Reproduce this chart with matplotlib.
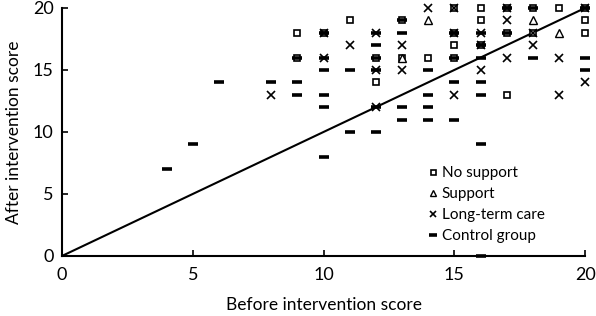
import matplotlib.pyplot as plt
import numpy as np

plt.rcParams['font.family'] = ['Lato', 'DejaVu Sans']

# before / after scores, one pair of lists per group
nosupport_before = [9, 9, 10, 11, 12, 12, 13, 13, 14, 15, 15, 15, 15, 16, 16, 16,
                    17, 17, 17, 18, 18, 19, 20, 20, 20]
nosupport_after = [18, 16, 18, 19, 16, 14, 19, 16, 16, 20, 18, 17, 16, 20, 19, 17,
                   20, 18, 13, 20, 18, 20, 20, 19, 18]

support_before = [13, 14, 18, 19]
support_after = [16, 19, 19, 18]

ltc_before = [8, 10, 10, 11, 12, 12, 12, 13, 13, 14, 15, 15, 15, 16, 16, 16,
              17, 17, 17, 18, 18, 19, 19, 20, 20]
ltc_after = [13, 18, 16, 17, 18, 15, 12, 17, 15, 20, 20, 18, 13, 18, 17, 15,
             20, 19, 16, 18, 17, 16, 13, 20, 14]

control_before = [4, 5, 6, 8, 9, 9, 9, 10, 10, 10, 10, 10, 10, 11, 11, 12, 12,
                  12, 12, 12, 12, 13, 13, 13, 13, 14, 14, 14, 14, 15, 15, 15,
                  15, 16, 16, 16, 16, 16, 16, 16, 17, 17, 18, 18, 20, 20, 20]
control_after = [7, 9, 14, 14, 16, 14, 13, 18, 16, 15, 13, 12, 8, 15, 10, 18, 17,
                 16, 15, 12, 10, 19, 18, 12, 11, 15, 13, 12, 11, 18, 16, 14,
                 11, 18, 17, 16, 14, 13, 9, 0, 20, 18, 20, 16, 20, 16, 15]

ticks = [0, 5, 10, 15, 20]

fig = plt.figure(figsize=(5.96, 3.16), dpi=100)
ax = fig.add_axes([0.104, 0.19, 0.878, 0.785])

# identity line
ax.plot([0, 20], [0, 20], color='black', linewidth=1.5, zorder=1)

ax.plot(nosupport_before, nosupport_after, linestyle='none', marker='s', markersize=4.5,
        markerfacecolor='white', markeredgecolor='black', markeredgewidth=1.2,
        label='No support', clip_on=False, zorder=3)
ax.plot(support_before, support_after, linestyle='none', marker='^', markersize=5.5,
        markerfacecolor='white', markeredgecolor='black', markeredgewidth=1.0,
        label='Support', clip_on=False, zorder=3)
ax.plot(ltc_before, ltc_after, linestyle='none', marker='x', markersize=6,
        color='black', markeredgewidth=1.2,
        label='Long-term care', clip_on=False, zorder=4)
ax.plot(control_before, control_after, linestyle='none', marker='_', markersize=6.5,
        color='black', markeredgewidth=2.6,
        label='Control group', clip_on=False, zorder=4)

ax.set_xlim(0, 20)
ax.set_ylim(0, 20)
ax.set_xticks(ticks)
ax.set_yticks(ticks)
ax.tick_params(direction='in', length=4, width=1.2, labelsize=13, pad=6, colors='black')
ax.tick_params(axis='x', pad=8)

for side in ['top', 'right']:
    ax.spines[side].set_visible(False)
for side in ['left', 'bottom']:
    ax.spines[side].set_linewidth(1.5)

ax.set_xlabel('Before intervention score', fontsize=12.5, labelpad=10)
ax.set_ylabel('After intervention score', fontsize=12.5, labelpad=8)

ax.legend(loc='lower right', bbox_to_anchor=(0.94, 0.015), frameon=False, fontsize=11,
          handlelength=0.4, handletextpad=0.4, labelspacing=0.45, borderaxespad=0.2,
          markerscale=0.8)

fig.savefig('out.png', dpi=100)
